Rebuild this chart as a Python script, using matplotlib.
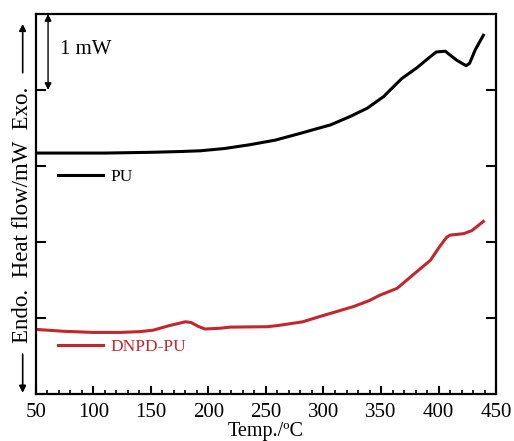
import matplotlib
matplotlib.use("Agg")
import matplotlib.pyplot as plt
from matplotlib.lines import Line2D
from matplotlib.ticker import MultipleLocator

plt.rcParams['font.family'] = ['Liberation Serif', 'DejaVu Serif']

# DSC curves (arbitrary offset, 1 unit = 1 mW)
pu_temp = [50, 80, 110, 150, 175, 193, 214, 236, 258, 280, 294, 306, 323,
           338, 352, 368, 381, 393, 398, 406, 410, 416, 424, 427, 432, 439]
pu_flow = [3.17, 3.17, 3.17, 3.18, 3.19, 3.20, 3.23, 3.28, 3.34, 3.43, 3.49,
           3.54, 3.65, 3.76, 3.91, 4.15, 4.29, 4.44, 4.50, 4.51, 4.46, 4.39,
           4.32, 4.35, 4.53, 4.72]

dnpd_temp = [50, 74, 100, 123, 140, 152, 166, 180, 185, 191, 197, 210, 219,
             251, 260, 282, 297, 326, 340, 349, 364, 378, 393, 401, 407, 410,
             422, 429, 439]
dnpd_flow = [0.85, 0.825, 0.81, 0.81, 0.82, 0.84, 0.90, 0.95, 0.94, 0.89,
             0.855, 0.865, 0.88, 0.885, 0.90, 0.95, 1.02, 1.15, 1.23, 1.30,
             1.39, 1.57, 1.76, 1.94, 2.06, 2.09, 2.11, 2.15, 2.27]

red = '#c4262e'

fig = plt.figure(figsize=(5.14, 4.41), dpi=100)
ax = fig.add_axes([0.070, 0.1066, 0.895, 0.8617])

ax.plot(pu_temp, pu_flow, color='black', lw=2.2)
ax.plot(dnpd_temp, dnpd_flow, color=red, lw=2.2)

ax.set_xlim(50, 450)
ax.set_ylim(0, 5)
ax.xaxis.set_major_locator(MultipleLocator(50))
ax.xaxis.set_minor_locator(MultipleLocator(10))
ax.set_yticks([1, 2, 3, 4])
ax.tick_params(axis='x', which='major', direction='in', length=6, width=1.5,
               labelsize=15, pad=6.5)
ax.tick_params(axis='x', which='minor', direction='in', length=3, width=1.2)
ax.tick_params(axis='y', direction='in', length=7, width=1.5, left=True,
               right=True, labelleft=False)
for s in ax.spines.values():
    s.set_linewidth(1.6)

ax.set_xlabel('Temp./ºC', fontsize=14.5)
ax.xaxis.set_label_coords(0.5, -0.073)

# legends placed next to each curve
leg1 = ax.legend([Line2D([], [], color='black', lw=2.2)], ['PU'],
                 loc='center left', bbox_to_anchor=(0.048, 0.571),
                 frameon=False, fontsize=12.5, handlelength=2.6,
                 handletextpad=0.4, borderpad=0, borderaxespad=0)
ax.add_artist(leg1)
leg2 = ax.legend([Line2D([], [], color=red, lw=2.2)], ['DNPD-PU'],
                 loc='center left', bbox_to_anchor=(0.048, 0.124),
                 frameon=False, fontsize=12.5, handlelength=2.6,
                 handletextpad=0.4, borderpad=0, borderaxespad=0)
for t in leg2.get_texts():
    t.set_color(red)

# 1 mW scale bar
ax.annotate('', xy=(60.5, 5.0), xytext=(60.5, 4.0),
            arrowprops=dict(arrowstyle='<|-|>', color='black', lw=1.0,
                            mutation_scale=10, shrinkA=0, shrinkB=0))
ax.text(71, 4.53, '1 mW', fontsize=15, va='center', ha='left')

# y label with arrows
fig.text(0.043, 0.512, 'Endo.  Heat flow/mW  Exo.', rotation=90,
         fontsize=16.5, ha='center', va='center')
fig.add_artist(plt.annotate('', xy=(0.044, 0.945), xytext=(0.044, 0.835),
                            xycoords='figure fraction',
                            arrowprops=dict(arrowstyle='-|>', color='black',
                                            lw=1.0, mutation_scale=10,
                                            shrinkA=0, shrinkB=0)))
fig.add_artist(plt.annotate('', xy=(0.044, 0.11), xytext=(0.044, 0.197),
                            xycoords='figure fraction',
                            arrowprops=dict(arrowstyle='-|>', color='black',
                                            lw=1.0, mutation_scale=10,
                                            shrinkA=0, shrinkB=0)))

fig.savefig('out.png', dpi=100)
